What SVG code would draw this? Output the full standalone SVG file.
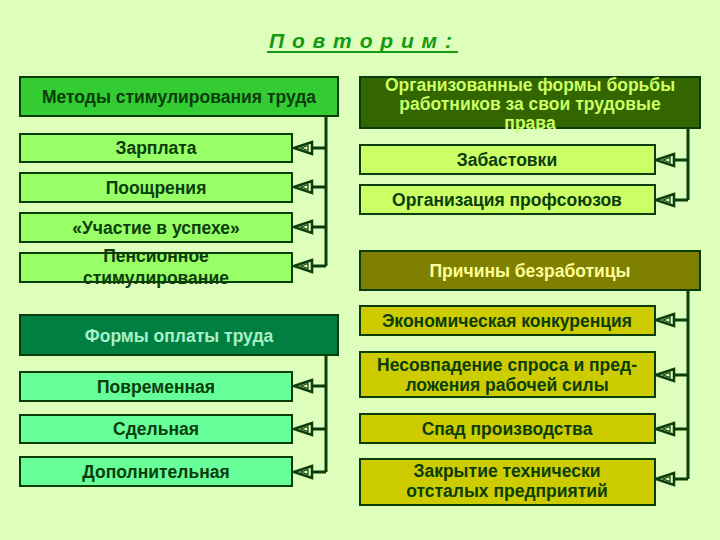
<svg xmlns="http://www.w3.org/2000/svg" width="720" height="540" viewBox="0 0 720 540">
<style>
text{font-family:"Liberation Sans",Arial,sans-serif;font-weight:bold;text-anchor:middle}
.box{stroke:#0b3d0b;stroke-width:2}
.t{font-size:17.5px;fill:#0b3d0b}
.line{stroke:#0b3d0b;stroke-width:3;fill:none}
</style>
<defs>
<g id="ah">
<polygon points="0,0 18,-6 18,6" fill="#ddffbb" stroke="#0b3d0b" stroke-width="2.5" stroke-linejoin="miter"/>
<polygon points="7,0 14,-2.5 14,2.5" fill="none" stroke="#0b3d0b" stroke-width="1.2"/>
</g>
</defs>
<rect width="720" height="540" fill="#ddffbb"/>
<g id="title">
<text x="361" y="48" style="font-size:21px;font-style:italic;fill:#149a14;letter-spacing:1px">П о в т о р и м :</text>
<line x1="267" y1="52" x2="458" y2="52" stroke="#149a14" stroke-width="2"/>
</g>
<g id="connectors">
<path class="line" d="M326,116 V266 M326,148 H311 M326,187 H311 M326,227 H311 M326,266 H311"/>
<path class="line" d="M326,355 V472 M326,386 H311 M326,429 H311 M326,472 H311"/>
<path class="line" d="M688,128 V200 M688,160 H673 M688,200 H673"/>
<path class="line" d="M688,290 V479 M688,320 H673 M688,375 H673 M688,429 H673 M688,479 H673"/>
<use href="#ah" x="294" y="148"/><use href="#ah" x="294" y="187"/><use href="#ah" x="294" y="227"/><use href="#ah" x="294" y="266"/>
<use href="#ah" x="294" y="386"/><use href="#ah" x="294" y="429"/><use href="#ah" x="294" y="472"/>
<use href="#ah" x="656" y="160"/><use href="#ah" x="656" y="200"/>
<use href="#ah" x="656" y="320"/><use href="#ah" x="656" y="375"/><use href="#ah" x="656" y="429"/><use href="#ah" x="656" y="479"/>
</g>
<g id="n_methods"><rect class="box" x="20" y="77" width="318" height="39" fill="#33cc33"/><text class="t" x="179" y="103">Методы стимулирования труда</text></g>
<g id="n_zarplata"><rect class="box" x="20" y="134" width="272" height="28" fill="#99ff66"/><text class="t" x="156" y="154">Зарплата</text></g>
<g id="n_pooshch"><rect class="box" x="20" y="173" width="272" height="29" fill="#99ff66"/><text class="t" x="156" y="194">Поощрения</text></g>
<g id="n_uchastie"><rect class="box" x="20" y="213" width="272" height="29" fill="#99ff66"/><text class="t" x="156" y="234">«Участие в успехе»</text></g>
<g id="n_pension"><rect class="box" x="20" y="253" width="272" height="29" fill="#99ff66"/><text class="t" x="156" y="262">Пенсионное</text><text class="t" x="156" y="284">стимулирование</text></g>
<g id="n_formy"><rect class="box" x="20" y="315" width="318" height="40" fill="#008040"/><text class="t" x="179" y="342" style="fill:#a8f0c8">Формы оплаты труда</text></g>
<g id="n_povrem"><rect class="box" x="20" y="372" width="272" height="29" fill="#66ff99"/><text class="t" x="156" y="393">Повременная</text></g>
<g id="n_sdel"><rect class="box" x="20" y="415" width="272" height="28" fill="#66ff99"/><text class="t" x="156" y="435">Сдельная</text></g>
<g id="n_dop"><rect class="box" x="20" y="457" width="272" height="29" fill="#66ff99"/><text class="t" x="156" y="478">Дополнительная</text></g>
<g id="n_org"><rect class="box" x="360" y="77" width="340" height="51" fill="#336600"/>
<text class="t" x="530" y="91" style="fill:#ccff66">Организованные формы борьбы</text>
<text class="t" x="530" y="110" style="fill:#ccff66">работников за свои трудовые</text>
<text class="t" x="530" y="129" style="fill:#ccff66">права</text></g>
<g id="n_zabast"><rect class="box" x="360" y="145" width="295" height="29" fill="#ccff66"/><text class="t" x="507" y="166">Забастовки</text></g>
<g id="n_profs"><rect class="box" x="360" y="185" width="295" height="29" fill="#ccff66"/><text class="t" x="507" y="206">Организация профсоюзов</text></g>
<g id="n_prichiny"><rect class="box" x="360" y="251" width="340" height="39" fill="#808000"/><text class="t" x="530" y="277" style="fill:#ffff99">Причины безработицы</text></g>
<g id="n_ekon"><rect class="box" x="360" y="306" width="295" height="29" fill="#cccc00"/><text class="t" x="507" y="327">Экономическая конкуренция</text></g>
<g id="n_nesovp"><rect class="box" x="360" y="352" width="295" height="45" fill="#cccc00"/><text class="t" x="507" y="371">Несовпадение спроса и пред-</text><text class="t" x="507" y="391">ложения рабочей силы</text></g>
<g id="n_spad"><rect class="box" x="360" y="414" width="295" height="29" fill="#cccc00"/><text class="t" x="507" y="435">Спад производства</text></g>
<g id="n_zakr"><rect class="box" x="360" y="459" width="295" height="46" fill="#cccc00"/><text class="t" x="507" y="477">Закрытие технически</text><text class="t" x="507" y="497">отсталых предприятий</text></g>
</svg>
